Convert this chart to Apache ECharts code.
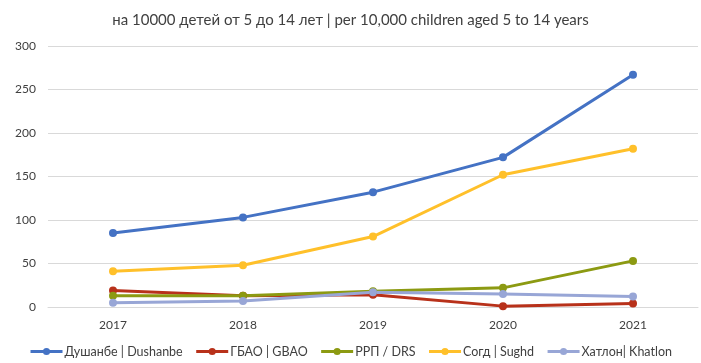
<!DOCTYPE html>
<html><head><meta charset="utf-8">
<script src="https://cdn.jsdelivr.net/npm/echarts@6/dist/echarts.min.js"></script>
<style>html,body{margin:0;padding:0;background:#fff}#c{width:701px;height:363px}</style>
</head><body><div id="c"></div>
<script>
var years = ['2017','2018','2019','2020','2021'];
var seriesNames = ['Душанбе | Dushanbe','ГБАО | GBAO','РРП / DRS','Согд | Sughd','Хатлон| Khatlon'];
var dushanbe = [85, 103, 132, 172, 267];
var gbao = [19, 13, 14, 1, 4];
var drs = [13, 13, 18, 22, 53];
var sughd = [41, 48, 81, 152, 182];
var khatlon = [5, 7, 17, 15, 12];
var colors = ['#4472C4','#B8311A','#8C9A12','#FFC02A','#98A6D6'];
var title = 'на 10000 детей от 5 до 14 лет | per 10,000 children aged 5 to 14 years';

var font = 'Lato, "Open Sans", sans-serif';
var all = [dushanbe, gbao, drs, sughd, khatlon];
var chart = echarts.init(document.getElementById('c'));
chart.setOption({
  animation: false,
  textStyle: {fontFamily: font},
  title: {text: title, left: 'center', top: 8, textStyle: {fontFamily: font, fontSize: 15, fontWeight: 'normal', color: '#404040'}},
  grid: {left: 48, right: 3, top: 46, bottom: 56},
  legend: {
    bottom: 0, left: 'center', itemWidth: 32, itemHeight: 9, itemGap: 12,
    lineStyle: {width: 3},
    textStyle: {fontFamily: font, fontSize: 12.5, color: '#404040', padding: [0, 0, 0, -3]},
    data: seriesNames
  },
  xAxis: {
    type: 'category', data: years, boundaryGap: true,
    axisLine: {lineStyle: {color: '#D9D9D9', width: 1}},
    axisTick: {show: false},
    axisLabel: {fontFamily: font, fontSize: 12, color: '#404040', margin: 12}
  },
  yAxis: {
    type: 'value', min: 0, max: 300, interval: 50,
    axisLine: {show: false}, axisTick: {show: false},
    splitLine: {lineStyle: {color: '#D9D9D9', width: 1}},
    axisLabel: {fontFamily: font, fontSize: 12, color: '#404040', margin: 12}
  },
  series: seriesNames.map(function(n, i){
    return {
      name: n, type: 'line', data: all[i], symbol: 'circle', symbolSize: 8,
      color: colors[i],
      lineStyle: {width: 3, color: colors[i]},
      itemStyle: {color: colors[i]}
    };
  })
});
</script></body></html>
